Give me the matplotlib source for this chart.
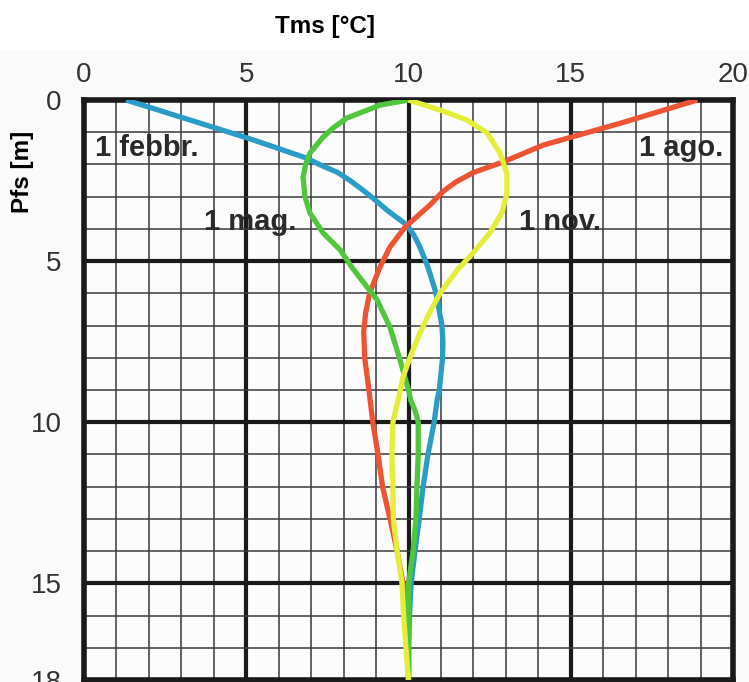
import matplotlib
matplotlib.use("Agg")
import matplotlib.pyplot as plt
from matplotlib.patches import Rectangle

# ---- data (depth [m], temperature [°C]) ----
feb_depth = [0.0, 0.6, 1.2, 1.8, 2.0, 2.24, 2.5, 2.8, 3.1, 3.42, 3.88, 4.2, 4.56, 5.19,
             6.0, 7.0, 7.5, 8.0, 9.0, 9.32, 10.0, 11.0, 12.0, 13.0, 14.0, 15.0, 16.0, 17.0, 18.0]
feb_temp = [1.3, 3.2, 5.1, 6.85, 7.25, 7.8, 8.2, 8.6, 8.97, 9.34, 9.95, 10.17, 10.35, 10.6,
            10.85, 11.03, 11.06, 11.05, 10.95, 10.88, 10.79, 10.6, 10.45, 10.33, 10.2, 10.08, 10.03, 10.0, 10.0]

may_depth = [0.0, 0.16, 0.56, 0.85, 1.15, 1.65, 2.0, 2.4, 3.0, 3.5, 4.13, 4.66, 5.2, 5.8,
             6.2, 7.05, 8.07, 9.0, 9.32, 9.63, 10.0, 11.0, 12.0, 13.0, 14.0, 15.0, 16.0, 17.0, 18.0]
may_temp = [10.0, 9.12, 8.1, 7.7, 7.37, 6.96, 6.83, 6.75, 6.81, 6.96, 7.37, 7.9, 8.26, 8.72,
            9.03, 9.43, 9.74, 10.0, 10.07, 10.2, 10.3, 10.3, 10.26, 10.23, 10.14, 10.0, 10.0, 10.0, 10.0]

aug_depth = [0.0, 0.7, 1.4, 1.93, 2.25, 2.55, 2.85, 3.26, 3.94, 4.56, 5.19, 6.0, 6.6,
             7.2, 8.0, 9.0, 10.0, 11.0, 12.0, 13.0, 14.0, 15.0, 16.0, 17.0, 18.0]
aug_temp = [18.9, 16.6, 14.15, 12.9, 12.0, 11.45, 11.05, 10.66, 9.9, 9.43, 9.12, 8.8, 8.68,
            8.62, 8.65, 8.78, 8.9, 9.06, 9.2, 9.43, 9.65, 9.83, 9.95, 10.0, 10.0]

nov_depth = [0.0, 0.31, 0.62, 1.02, 1.65, 2.27, 2.9, 3.5, 4.13, 4.75, 5.28, 6.0,
             6.6, 7.24, 7.9, 8.6, 9.32, 10.0, 11.0, 12.0, 13.0, 14.0, 15.0, 16.0, 17.0, 18.0]
nov_temp = [10.0, 10.97, 11.8, 12.42, 12.82, 13.03, 13.03, 12.88, 12.5, 11.99, 11.5, 10.97,
            10.65, 10.35, 10.08, 9.83, 9.68, 9.52, 9.49, 9.52, 9.53, 9.65, 9.8, 9.85, 9.92, 10.0]

x_ticks = [0, 5, 10, 15, 20]
y_ticks = [0, 5, 10, 15, 18]
series_labels = ["1 febbr.", "1 mag.", "1 ago.", "1 nov."]

W, H = 749, 682
fig = plt.figure(figsize=(W / 100, H / 100), dpi=100, facecolor="#fafafa")
fig.patches.append(Rectangle((0, 1 - 50 / H), 1, 50 / H, transform=fig.transFigure,
                             facecolor="white", edgecolor="none", zorder=0))

ax = fig.add_axes([84 / W, 2 / H, (733 - 84) / W, 580 / H])
ax.set_facecolor("#fcfcfc")
ax.set_xlim(0, 20)
ax.set_ylim(18, 0)

ax.set_xticks(x_ticks)
ax.set_xticks(range(0, 21), minor=True)
ax.set_yticks(y_ticks)
ax.set_yticks(range(0, 19), minor=True)
ax.xaxis.tick_top()
ax.tick_params(which="both", length=0)
ax.tick_params(axis="x", pad=9, labelsize=20, labelcolor="#333333")
ax.tick_params(axis="y", pad=16, labelsize=20, labelcolor="#333333")
for lab in ax.get_xticklabels() + ax.get_yticklabels():
    lab.set_family("Liberation Sans")

ax.grid(which="minor", color="#3a3a3a", linewidth=1.1, zorder=1)
ax.grid(which="major", color="#1a1a1a", linewidth=3.0, zorder=1)
ax.set_axisbelow(True)
for sp in ax.spines.values():
    sp.set_linewidth(4)
    sp.set_color("#1a1a1a")

lw = 3.8
kw = dict(lw=lw, solid_capstyle="butt", solid_joinstyle="round")
ax.plot(feb_temp, feb_depth, color="#2a9cc6", zorder=3, **kw)
ax.plot(aug_temp, aug_depth, color="#ee5433", zorder=4, **kw)
ax.plot(may_temp, may_depth, color="#4fc63c", zorder=5, **kw)
ax.plot(nov_temp, nov_depth, color="#e4ee3a", zorder=6, **kw)

tkw = dict(fontsize=21, fontweight="bold", color="#2a2a2a", va="center",
           family="Liberation Sans", zorder=7)
ax.text(0.35, 1.5, series_labels[0], ha="left", **tkw)
ax.text(3.7, 3.8, series_labels[1], ha="left", **tkw)
ax.text(19.7, 1.5, series_labels[2], ha="right", **tkw)
ax.text(13.4, 3.8, series_labels[3], ha="left", **tkw)

fig.text(325 / W, 1 - 26 / H, "Tms [°C]", ha="center", va="center",
         fontsize=17.5, fontweight="bold", family="Liberation Sans")
fig.text(23 / W, 1 - 172 / H, "Pfs [m]", ha="center", va="center", rotation=90,
         fontsize=17.5, fontweight="bold", family="Liberation Sans")

fig.savefig("out.png", dpi=100, facecolor=fig.get_facecolor())
